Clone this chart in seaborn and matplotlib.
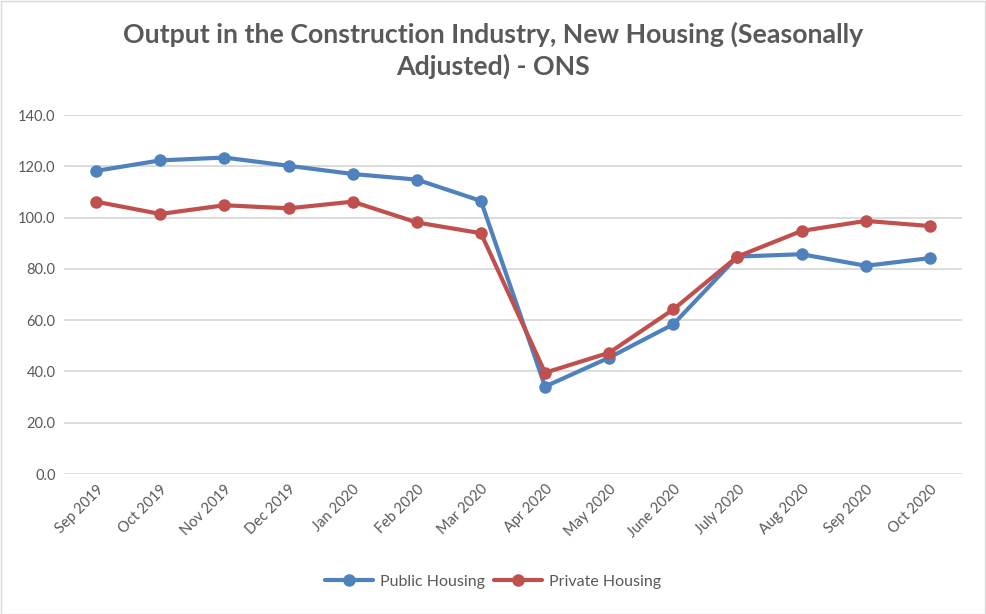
import pandas as pd
import numpy as np
import seaborn as sns
import matplotlib.pyplot as plt
from matplotlib.patches import Rectangle

months = ["Sep 2019", "Oct 2019", "Nov 2019", "Dec 2019", "Jan 2020", "Feb 2020",
          "Mar 2020", "Apr 2020", "May 2020", "June 2020", "July 2020", "Aug 2020",
          "Sep 2020", "Oct 2020"]
public_housing = [118.2, 122.3, 123.4, 120.2, 117.0, 114.8, 106.5,
                  34.1, 45.4, 58.4, 84.8, 85.7, 81.2, 84.2]
private_housing = [106.2, 101.4, 104.8, 103.6, 106.2, 98.1, 93.9,
                   39.5, 47.3, 64.2, 84.8, 94.8, 98.7, 96.7]
series_names = ["Public Housing", "Private Housing"]
colors = ["#4F81BD", "#C0504D"]

df = pd.DataFrame({"month": months, series_names[0]: public_housing,
                   series_names[1]: private_housing})
df["pos"] = np.arange(len(months))
long_df = df.melt(id_vars=["month", "pos"], var_name="series", value_name="value")

sns.set_theme(style="white")
plt.rcParams['font.family'] = ['Lato', 'DejaVu Sans']
grey = "#595959"

fig = plt.figure(figsize=(9.86, 6.14), dpi=100)
ax = fig.add_axes([64 / 986, 1 - 474 / 614, 898 / 986, 359 / 614])

sns.lineplot(data=long_df, x="pos", y="value", hue="series", hue_order=series_names,
             palette=colors, marker="o", markersize=9, markeredgewidth=0,
             linewidth=3, ax=ax, legend=True)

ax.set_xlim(-0.5, len(months) - 0.5)
ax.set_ylim(0, 140)
ax.set_yticks(np.arange(0, 141, 20))
ax.set_yticklabels([f"{v:.1f}" for v in np.arange(0, 141, 20)], color=grey, fontsize=10.5)
ax.set_xticks(df["pos"])
ax.set_xticklabels(months, rotation=45, ha="right", rotation_mode="anchor",
                   color=grey, fontsize=10.5)
ax.tick_params(axis="both", length=0, pad=6)
ax.yaxis.grid(True, color="#D9D9D9", linewidth=1.3)
ax.set_axisbelow(True)
for s in ax.spines.values():
    s.set_visible(False)
ax.set_xlabel("")
ax.set_ylabel("")

fig.suptitle("Output in the Construction Industry, New Housing (Seasonally\nAdjusted) - ONS",
             x=493 / 986, y=1 - 22 / 614, color=grey, fontsize=19.3, fontweight="bold",
             linespacing=1.3)

handles, labels = ax.get_legend_handles_labels()
ax.legend(handles, labels, loc="center", bbox_to_anchor=(0.5, 1 - 582 / 614), ncol=2,
          bbox_transform=fig.transFigure, frameon=False, fontsize=11.5, labelcolor=grey,
          handlelength=3, columnspacing=0.6, handletextpad=0.4)

fig.add_artist(Rectangle((0.5 / 986, 0.5 / 614), 1 - 1.5 / 986, 1 - 1.5 / 614,
                         transform=fig.transFigure, fill=False, edgecolor="#D9D9D9",
                         linewidth=1))

fig.savefig("out.png", dpi=100)
